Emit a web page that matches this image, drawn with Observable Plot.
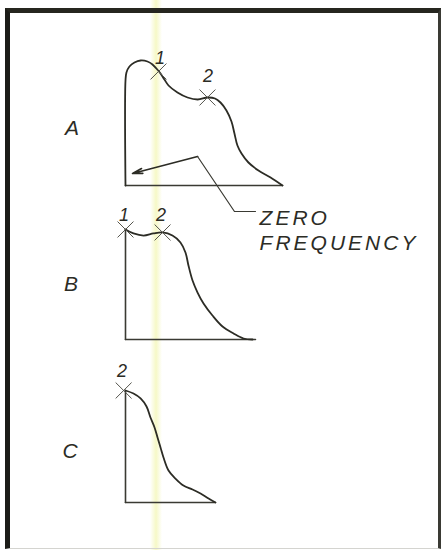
<!DOCTYPE html>
<html><head><meta charset="utf-8">
<script src="https://cdn.jsdelivr.net/npm/d3@7"></script>
<script src="https://cdn.jsdelivr.net/npm/@observablehq/plot@0.6"></script>
<style>
html,body{margin:0;padding:0;background:#fff;}
#page{position:relative;width:443px;height:550px;overflow:hidden;background:#fff;}
#page svg{position:absolute;left:0;top:0;}
#strip{position:absolute;left:150px;top:0;width:12px;height:550px;
  background:linear-gradient(to right,rgba(240,244,160,0),rgba(240,244,160,0.6) 50%,rgba(240,244,160,0));}
#frame{position:absolute;left:5px;top:8px;width:428px;height:535px;
  border-left:5px solid #1c1c18;border-top:5px solid #26261f;border-right:3px solid #3a3a34;border-bottom:1px solid #d4d4d0;}
</style></head>
<body><div id="page"><div id="strip"></div><div id="frame"></div></div>
<script>
// Response curves: relative frequency (0 = zero frequency) vs relative amplitude
const aFreq = [0, 0, 0.006, 0.025, 0.057, 0.096, 0.14, 0.172, 0.197, 0.223, 0.248, 0.274, 0.331, 0.395, 0.46, 0.522, 0.57, 0.605, 0.643, 0.675, 0.694, 0.713, 0.739, 0.783, 0.847, 0.924, 1.0];
const aAmp  = [0, 0.84, 0.904, 0.952, 0.984, 1.0, 0.992, 0.968, 0.936, 0.896, 0.848, 0.8, 0.744, 0.704, 0.688, 0.704, 0.696, 0.664, 0.6, 0.512, 0.416, 0.32, 0.256, 0.184, 0.12, 0.064, 0];
const bFreq = [0, 0.051, 0.115, 0.178, 0.236, 0.299, 0.35, 0.382, 0.401, 0.427, 0.459, 0.497, 0.554, 0.618, 0.688, 0.752, 0.809];
const bAmp  = [1.0, 0.964, 0.945, 0.964, 0.973, 0.945, 0.882, 0.791, 0.673, 0.536, 0.427, 0.327, 0.218, 0.118, 0.055, 0.009, 0];
const cFreq = [0, 0.051, 0.096, 0.134, 0.159, 0.185, 0.204, 0.223, 0.242, 0.274, 0.318, 0.369, 0.427, 0.478, 0.529, 0.573];
const cAmp  = [1.0, 0.973, 0.929, 0.857, 0.759, 0.67, 0.58, 0.491, 0.402, 0.286, 0.214, 0.152, 0.116, 0.08, 0.036, 0];
// Axis extents (frequency at which each horizontal axis ends)
const axisEnd = {A: 1.0, B: 0.828, C: 0.573};
// Crossover marks and their number labels
const crossF = {A: [0.21, 0.522], B: [0, 0.236], C: [-0.012]};
const crossA = {A: [0.912, 0.704], B: [1.0, 0.973], C: [1.0]};
const crossN = {A: ["1", "2"], B: ["1", "2"], C: ["2"]};
const crossLabelF = {A: [0.229, 0.535], B: [0, 0.236], C: [-0.012]};
const crossLabelA = {A: [1.016, 0.872], B: [1.127, 1.127], C: [1.17]};
// Panel letters
const panelNames = ["A", "B", "C"];
const panelLabelF = [-0.331, -0.338, -0.344];
const panelLabelA = [0.456, 0.5, 0.455];
// "Zero frequency" callout (in panel A units)
const calloutText = "ZERO\nFREQUENCY";
const arrowFrom = {f: 0.459, a: 0.232};
const arrowTo = {f: 0.045, a: 0.096};
const leaderF = [0.459, 0.694, 0.828];
const leaderA = [0.232, -0.208, -0.208];
const calloutPos = {f: 0.854, a: -0.176};

const ink = "#2c2c25";
const yRanges = {A: [185, 60], B: [339, 229], C: [502, 390]};
const curves = {A: [aFreq, aAmp], B: [bFreq, bAmp], C: [cFreq, cAmp]};
const zip = (fs, as) => fs.map((f, i) => ({f, a: as[i]}));

const page = document.getElementById("page");

panelNames.forEach((p, pi) => {
  const curve = zip(...curves[p]);
  const crosses = crossF[p].map((f, i) => ({f, a: crossA[p][i]}));
  const clabels = crossLabelF[p].map((f, i) => ({f, a: crossLabelA[p][i], n: crossN[p][i]}));
  const marks = [
    Plot.line([{f: 0, a: 0}, {f: axisEnd[p], a: 0}], {x: "f", y: "a", stroke: "#3a3a33", strokeWidth: 1.6}),
  ];
  if (p !== "A") marks.push(Plot.line([{f: 0, a: 0}, {f: 0, a: 1}], {x: "f", y: "a", stroke: "#3a3a33", strokeWidth: 1.6}));
  marks.push(
    Plot.line(curve, {x: "f", y: "a", stroke: ink, strokeWidth: 1.8, curve: "catmull-rom"}),
    Plot.dot(crosses, {x: "f", y: "a", symbol: "times", r: 7.3, stroke: "#55554d", strokeWidth: 1}),
    Plot.text(clabels, {x: "f", y: "a", text: "n", fontSize: 18, fontStyle: "italic", fontFamily: "Liberation Sans", fill: ink}),
    Plot.text([{f: panelLabelF[pi], a: panelLabelA[pi], t: p}], {x: "f", y: "a", text: "t", fontSize: 21, fontStyle: "italic", fontFamily: "Liberation Sans", fill: ink})
  );
  if (p === "A") {
    marks.push(
      Plot.arrow([{f1: arrowFrom.f, a1: arrowFrom.a, f2: arrowTo.f, a2: arrowTo.a}], {x1: "f1", y1: "a1", x2: "f2", y2: "a2", stroke: ink, strokeWidth: 1.7, headLength: 9, headAngle: 28}),
      Plot.line(zip(leaderF, leaderA), {x: "f", y: "a", stroke: "#3a3a33", strokeWidth: 1.2}),
      Plot.text([{f: calloutPos.f, a: calloutPos.a, t: calloutText}], {x: "f", y: "a", text: "t", textAnchor: "start", lineAnchor: "top", lineHeight: 1.19, fontSize: 21, fontStyle: "italic", fontFamily: "Liberation Sans", fill: ink})
    );
  }
  const svg = Plot.plot({
    width: 443, height: 550, margin: 0,
    x: {domain: [0, 1], range: [125, 282], axis: null},
    y: {domain: [0, 1], range: yRanges[p], axis: null},
    style: {background: "transparent", overflow: "visible", letterSpacing: "3px"},
    marks
  });
  page.appendChild(svg);
});
</script></body></html>
